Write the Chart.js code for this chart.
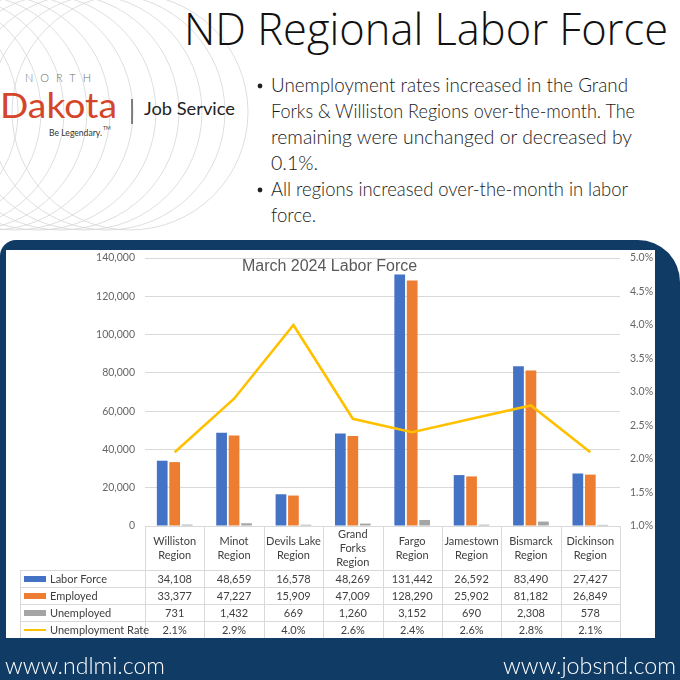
<!DOCTYPE html>
<html><head><meta charset="utf-8">
<script src="https://cdn.jsdelivr.net/npm/chart.js@4.4.1/dist/chart.umd.min.js"></script>
<style>
html,body{margin:0;padding:0;background:#fff;width:680px;height:680px;overflow:hidden;position:relative;}
#navy{position:absolute;left:0;top:240px;width:680px;height:440px;background:#0f3b65;border-radius:16px 42px 0 0;}
#panel{position:absolute;left:6px;top:250px;width:649px;height:388px;background:#fff;}
#panel canvas{display:block;}
svg{position:absolute;left:0;top:0;}
</style></head><body>
<svg id="hdr" width="680" height="240" xmlns="http://www.w3.org/2000/svg">
  <defs><clipPath id="cl"><rect x="0" y="0" width="252" height="232"/></clipPath></defs>
  <g id="arcs" clip-path="url(#cl)" fill="none" stroke="#d6d6d6" stroke-width="0.8"></g>
  <text x="184" y="45" font-family="Open Sans" font-weight="300" font-size="45" fill="#111" textLength="484" lengthAdjust="spacingAndGlyphs">ND Regional Labor Force</text>
  <text x="25" y="82" font-family="Lato" font-weight="300" font-size="11" fill="#6d6d6d" textLength="66" lengthAdjust="spacing">NORTH</text>
  <text x="0" y="118" font-family="Lato" font-size="34" fill="#d4452a" textLength="117" lengthAdjust="spacingAndGlyphs">Dakota</text>
  <line x1="132" y1="99" x2="132" y2="124" stroke="#333" stroke-width="1.2"/>
  <text x="144" y="115" font-family="Lato" font-size="17" fill="#222" textLength="91" lengthAdjust="spacingAndGlyphs">Job Service</text>
  <text x="49" y="136" font-family="Lato" font-size="9.5" fill="#333" textLength="53" lengthAdjust="spacingAndGlyphs">Be Legendary.</text>
  <text x="103" y="130" font-family="Lato" font-size="5" fill="#333">TM</text>
  <g font-family="Lato" font-weight="300" font-size="20" fill="#1a1a1a">
    <circle cx="260" cy="86" r="2.4" fill="#222"/>
    <text x="271" y="92" textLength="357" lengthAdjust="spacingAndGlyphs">Unemployment rates increased in the Grand</text>
    <text x="271" y="118" textLength="364" lengthAdjust="spacingAndGlyphs">Forks &amp; Williston Regions over-the-month. The</text>
    <text x="271" y="144" textLength="361" lengthAdjust="spacingAndGlyphs">remaining were unchanged or decreased by</text>
    <text x="271" y="170" textLength="47" lengthAdjust="spacingAndGlyphs">0.1%.</text>
    <circle cx="260" cy="190" r="2.4" fill="#222"/>
    <text x="271" y="196" textLength="357" lengthAdjust="spacingAndGlyphs">All regions increased over-the-month in labor</text>
    <text x="271" y="222" textLength="45" lengthAdjust="spacingAndGlyphs">force.</text>
  </g>
</svg>
<div id="navy"></div>
<div id="panel"><canvas id="c" width="649" height="388"></canvas></div>
<svg width="680" height="680" style="pointer-events:none">
  <text x="5" y="674" font-family="Lato" font-weight="300" font-size="23" fill="#fff" textLength="160" lengthAdjust="spacingAndGlyphs">www.ndlmi.com</text>
  <text x="503" y="674" font-family="Lato" font-weight="300" font-size="23" fill="#fff" textLength="173" lengthAdjust="spacingAndGlyphs">www.jobsnd.com</text>
</svg>
<script>
// decorative arcs behind logo
(function(){
  const g = document.getElementById('arcs');
  for (let cx = -100; cx <= 135; cx += 23) {
    const c = document.createElementNS('http://www.w3.org/2000/svg','circle');
    c.setAttribute('cx', cx); c.setAttribute('cy', 112); c.setAttribute('r', 118);
    g.appendChild(c);
  }
})();

// ---- data ----
const categories = [
  ['Williston','Region'], ['Minot','Region'], ['Devils Lake','Region'], ['Grand','Forks','Region'],
  ['Fargo','Region'], ['Jamestown','Region'], ['Bismarck','Region'], ['Dickinson','Region']
];
const laborForce = [34108, 48659, 16578, 48269, 131442, 26592, 83490, 27427];
const employed   = [33377, 47227, 15909, 47009, 128290, 25902, 81182, 26849];
const unemployed = [731, 1432, 669, 1260, 3152, 690, 2308, 578];
const unempRate  = [2.1, 2.9, 4.0, 2.6, 2.4, 2.6, 2.8, 2.1];
const seriesNames = ['Labor Force', 'Employed', 'Unemployed', 'Unemployment Rate'];
const chartTitle = 'March 2024 Labor Force';

const fmt = v => v.toLocaleString('en-US');
const tableRows = [
  laborForce.map(fmt), employed.map(fmt), unemployed.map(fmt), unempRate.map(v => v.toFixed(1) + '%')
];
const colors = ['#4472C4', '#ED7D31', '#A5A5A5', '#FFC000'];
const gridColor = '#d9d9d9';
const FONT = 'Lato';

const tablePlugin = {
  id: 'dataTable',
  afterDraw(chart) {
    const ctx = chart.ctx, xs = chart.scales.x, area = chart.chartArea;
    const n = categories.length;
    const w = (area.right - area.left) / n;
    const top = area.bottom;
    const headBottom = top + 44;
    const rowH = 17;
    const legLeft = 14;
    const bottom = headBottom + rowH * 4;
    ctx.save();
    // chart title (drawn over plot area, as in the original)
    ctx.fillStyle = '#595959';
    ctx.font = '16px "Liberation Sans"';
    ctx.textAlign = 'center'; ctx.textBaseline = 'middle';
    ctx.fillText(chartTitle, chart.width / 2 - 1, 17);

    ctx.strokeStyle = gridColor; ctx.lineWidth = 1;
    ctx.beginPath();
    for (let i = 0; i <= n; i++) {
      const px = Math.round(area.left + i * w) + 0.5;
      ctx.moveTo(px, top); ctx.lineTo(px, bottom);
    }
    ctx.moveTo(legLeft + 0.5, headBottom); ctx.lineTo(legLeft + 0.5, bottom);
    for (let r = 0; r <= 4; r++) {
      const py = Math.round(headBottom + r * rowH) + 0.5;
      ctx.moveTo(legLeft, py); ctx.lineTo(area.right, py);
    }
    ctx.stroke();
    // header labels
    ctx.fillStyle = '#404040';
    ctx.font = '11px ' + FONT;
    const hc = (top + headBottom) / 2;
    categories.forEach((lab, i) => {
      const cx = xs.getPixelForValue(i);
      const lh = 14;
      lab.forEach((t, k) => {
        ctx.fillText(t, cx, hc + (k - (lab.length - 1) / 2) * lh);
      });
    });
    // rows
    tableRows.forEach((row, r) => {
      const cy = headBottom + r * rowH + rowH / 2 + 0.5;
      row.forEach((t, i) => ctx.fillText(t, xs.getPixelForValue(i), cy));
      if (r < 3) {
        ctx.fillStyle = colors[r];
        ctx.fillRect(legLeft + 4, cy - 3, 22, 6);
      } else {
        ctx.strokeStyle = colors[r]; ctx.lineWidth = 2;
        ctx.beginPath(); ctx.moveTo(legLeft + 4, cy); ctx.lineTo(legLeft + 26, cy); ctx.stroke();
      }
      ctx.fillStyle = '#404040';
      ctx.textAlign = 'left';
      ctx.fillText(seriesNames[r], legLeft + 30, cy);
      ctx.textAlign = 'center';
    });
    ctx.restore();
  }
};

const barCommon = { categoryPercentage: 0.63, barPercentage: 0.86, yAxisID: 'y', order: 1 };

new Chart(document.getElementById('c'), {
  data: {
    labels: categories,
    datasets: [
      Object.assign({ type: 'bar', label: seriesNames[0], data: laborForce, backgroundColor: colors[0] }, barCommon),
      Object.assign({ type: 'bar', label: seriesNames[1], data: employed, backgroundColor: colors[1] }, barCommon),
      Object.assign({ type: 'bar', label: seriesNames[2], data: unemployed, backgroundColor: colors[2] }, barCommon),
      { type: 'line', label: seriesNames[3], data: unempRate, borderColor: colors[3], borderWidth: 2.6,
        pointRadius: 0, tension: 0, yAxisID: 'y1', order: 0, fill: false }
    ]
  },
  options: {
    responsive: false, animation: false, devicePixelRatio: 1,
    layout: { padding: { top: 8, left: 0, right: 0, bottom: 0 } },
    plugins: {
      legend: { display: false },
      tooltip: { enabled: false },
      title: { display: false }
    },
    scales: {
      x: {
        type: 'category', offset: true,
        ticks: { display: false }, grid: { display: false }, border: { display: false },
        afterFit(s) { s.height = 112; }
      },
      y: {
        position: 'left', min: 0, max: 140000,
        ticks: { stepSize: 20000, color: '#666', font: { family: FONT, size: 10.5 }, padding: 10,
          callback: v => fmt(v) },
        grid: { color: gridColor, drawTicks: false }, border: { display: false },
        afterFit(s) { s.width = 139; s.paddingTop = 0; s.paddingBottom = 0; }
      },
      y1: {
        position: 'right', min: 1, max: 5,
        ticks: { stepSize: 0.5, color: '#666', font: { family: FONT, size: 10.5 }, padding: 10,
          callback: v => v.toFixed(1) + '%' },
        grid: { drawOnChartArea: false, drawTicks: false }, border: { display: false },
        afterFit(s) { s.width = 35; s.paddingTop = 0; s.paddingBottom = 0; }
      }
    }
  },
  plugins: [tablePlugin]
});
</script>
</body></html>
